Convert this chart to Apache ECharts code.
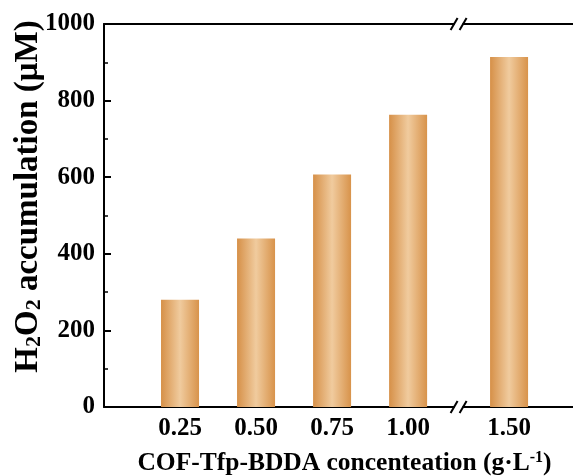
<!DOCTYPE html>
<html>
<head>
<meta charset="utf-8">
<script src="https://cdn.jsdelivr.net/npm/echarts@6/dist/echarts.min.js"></script>
<style>
  html, body { margin: 0; padding: 0; background: #ffffff; }
  #chart { width: 573px; height: 476px; }
</style>
</head>
<body>
<div id="chart"></div>
<script>
// Catalyst dosage (g/L) and the H2O2 accumulated at each dosage (µM)
const concentrations = [0.25, 0.50, 0.75, 1.00, 1.50];
const tickLabels = ['0.25', '0.50', '0.75', '1.00', '1.50'];
const accumulation = [280, 440, 607, 763, 914];

// Broken x axis: everything past 1.00 is pulled left by SHIFT
const BREAK_FROM = 1.00;
const BREAK_TO = 1.50;
const SHIFT = 0.168;
function axisPos(c) { return c > BREAK_FROM ? c - SHIFT : c; }
const positions = concentrations.map(axisPos);
const breakPos = (axisPos(BREAK_FROM) + axisPos(BREAK_TO)) / 2;

const FONT = "'Liberation Serif', 'Times New Roman', serif";
const black = '#000000';

const chart = echarts.init(document.getElementById('chart'), null, { renderer: 'canvas' });

const barFill = new echarts.graphic.LinearGradient(0, 0, 1, 0, [
  { offset: 0, color: '#D69048' },
  { offset: 0.5, color: '#F0CB9E' },
  { offset: 1, color: '#D8934B' }
]);

chart.setOption({
  animation: false,
  backgroundColor: '#ffffff',
  grid: { left: 104, right: -20, top: 24, bottom: 69, containLabel: false, outerBoundsMode: 'none' },
  xAxis: [
    {
      type: 'value',
      position: 'bottom',
      min: 0,
      max: 1.608,
      splitLine: { show: false },
      axisLine: { show: true, onZero: false, lineStyle: { color: black, width: 2 } },
      axisTick: {
        show: true, inside: true, length: 6,
        customValues: positions,
        lineStyle: { color: black, width: 2 }
      },
      axisLabel: {
        customValues: positions,
        margin: 9,
        color: black,
        fontFamily: FONT,
        fontWeight: 'bold',
        fontSize: 25,
        formatter: function (v) {
          let best = 0;
          positions.forEach(function (p, i) {
            if (Math.abs(p - v) < Math.abs(positions[best] - v)) best = i;
          });
          return tickLabels[best];
        }
      },
      name: 'COF-Tfp-BDDA concenteation (g·L{sup|-1})',
      nameLocation: 'middle',
      nameGap: 43,
      nameMoveOverlap: false,
      nameTextStyle: {
        color: black,
        fontFamily: FONT,
        fontWeight: 'bold',
        fontSize: 25.5,
        padding: [0, 8, 0, 0],
        rich: {
          sup: { fontFamily: FONT, fontWeight: 'bold', fontSize: 16, color: black, verticalAlign: 'top', padding: [0, 0, 9, 0] }
        }
      }
    },
    {
      type: 'value',
      position: 'top',
      min: 0,
      max: 1.608,
      splitLine: { show: false },
      axisLine: { show: true, onZero: false, lineStyle: { color: black, width: 2 } },
      axisTick: { show: false },
      axisLabel: { show: false }
    }
  ],
  yAxis: {
    type: 'value',
    min: 0,
    max: 1000,
    interval: 200,
    splitLine: { show: false },
    axisLine: { show: true, lineStyle: { color: black, width: 2 } },
    axisTick: { show: true, inside: true, length: 7, lineStyle: { color: black, width: 2 } },
    minorTick: { show: true, splitNumber: 2, length: 4, lineStyle: { color: black, width: 1.5 } },
    axisLabel: {
      margin: 9,
      color: black,
      fontFamily: FONT,
      fontWeight: 'bold',
      fontSize: 25,
      formatter: function (v) { return String(v); }
    },
    name: 'H{sub|2}O{sub|2} accumulation (μM)',
    nameLocation: 'middle',
    nameGap: 59,
    nameMoveOverlap: false,
    nameTextStyle: {
      color: black,
      fontFamily: FONT,
      fontWeight: 'bold',
      fontSize: 33,
      padding: [0, 0, 0, 38],
      rich: {
        sub: { fontFamily: FONT, fontWeight: 'bold', fontSize: 22, color: black, verticalAlign: 'bottom', padding: [8, 0, 0, 0] }
      }
    }
  },
  series: [
    {
      type: 'bar',
      xAxisIndex: 0,
      barWidth: 38,
      itemStyle: { color: barFill },
      data: positions.map(function (p, i) { return [p, accumulation[i]]; })
    }
  ]
});

// Double-slash break marks on the top and bottom axis lines
const bx = chart.convertToPixel({ xAxisIndex: 0 }, breakPos);
const yBottom = chart.convertToPixel({ yAxisIndex: 0 }, 0);
const yTop = chart.convertToPixel({ yAxisIndex: 0 }, 1000);
function breakMark(y) {
  return [
    { type: 'rect', z: 100, shape: { x: bx - 4, y: y - 3, width: 8, height: 6 }, style: { fill: '#ffffff' } },
    { type: 'line', z: 101, shape: { x1: bx - 8, y1: y + 6, x2: bx - 1, y2: y - 6 }, style: { stroke: black, lineWidth: 2 } },
    { type: 'line', z: 101, shape: { x1: bx + 1, y1: y + 6, x2: bx + 8, y2: y - 6 }, style: { stroke: black, lineWidth: 2 } }
  ];
}
chart.setOption({ graphic: breakMark(yBottom).concat(breakMark(yTop)) });
</script>
</body>
</html>
